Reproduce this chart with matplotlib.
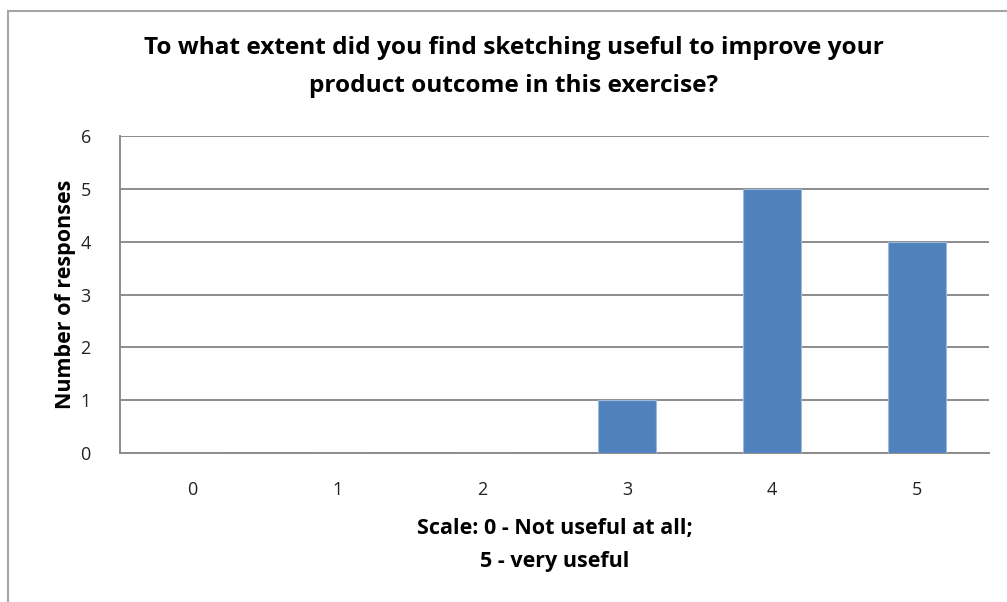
import matplotlib.pyplot as plt
from matplotlib.lines import Line2D

categories = ["0", "1", "2", "3", "4", "5"]
responses = [0, 0, 0, 1, 5, 4]
y_ticks = [0, 1, 2, 3, 4, 5, 6]

plt.rcParams['font.family'] = ['Open Sans', 'DejaVu Sans']

W, H = 1007, 602
fig = plt.figure(figsize=(W / 100, H / 100), dpi=100)
ax = fig.add_axes([120 / W, 1 - 453 / H, (989 - 120) / W, (453 - 136) / H])

x = range(len(categories))
ax.bar(x, responses, width=0.4, color='#4F81BD', edgecolor='#9DB9DE', linewidth=0.8, zorder=3)

ax.set_xlim(-0.5, len(categories) - 0.5)
ax.set_ylim(0, 6)
ax.set_yticks(y_ticks)
ax.set_xticks(list(x))
ax.set_xticklabels(categories)
ax.yaxis.grid(True, color='#8c8c8c', linewidth=1.4, zorder=0)
ax.set_axisbelow(True)
for s in ['top', 'right']:
    ax.spines[s].set_visible(False)
ax.spines['left'].set_color('#8c8c8c')
ax.spines['left'].set_linewidth(1.4)
ax.spines['bottom'].set_color('#8c8c8c')
ax.spines['bottom'].set_linewidth(1.4)
ax.tick_params(length=0, labelsize=13, colors='#222222')
ax.tick_params(axis='x', pad=20)
ax.tick_params(axis='y', pad=21)

ax.set_ylabel('Number of responses', fontsize=15.5, fontweight='bold', labelpad=3)
ax.set_xlabel('Scale: 0 - Not useful at all;\n5 - very useful', fontsize=15.5,
              fontweight='bold', labelpad=14, linespacing=1.72)

fig.text(514 / W, 1 - 67 / H,
         'To what extent did you find sketching useful to improve your\nproduct outcome in this exercise?',
         ha='center', va='center', fontsize=17.6, fontweight='bold', linespacing=1.78)

# outer chart border (cropped on right and bottom)
fig.add_artist(Line2D([8 / W, 8 / W], [0, 1 - 11 / H], transform=fig.transFigure,
                      color='#a6a6a6', linewidth=1.5))
fig.add_artist(Line2D([8 / W, 1], [1 - 11 / H, 1 - 11 / H], transform=fig.transFigure,
                      color='#a6a6a6', linewidth=1.5))

fig.savefig('out.png', dpi=100)
